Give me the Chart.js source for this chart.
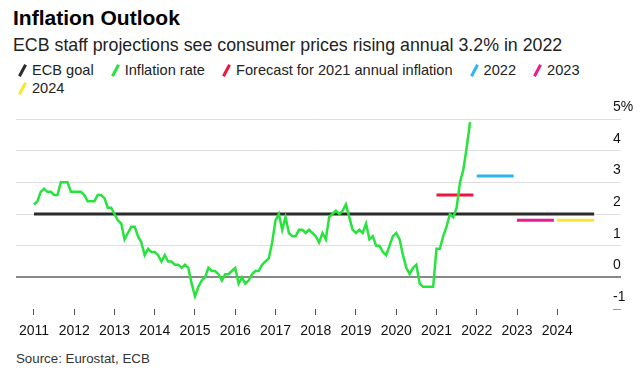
<!DOCTYPE html>
<html>
<head>
<meta charset="utf-8">
<script src="https://cdn.jsdelivr.net/npm/chart.js@4"></script>
<style>
  body { margin: 0; width: 644px; height: 370px; background: #fff; font-family: "Liberation Sans", Arial, sans-serif; color: #222; position: relative; overflow: hidden; }
  #title { position: absolute; left: 13px; top: 6px; font-size: 21px; font-weight: bold; line-height: 24px; color: #000; }
  #subtitle { position: absolute; left: 13px; top: 35px; font-size: 17.8px; line-height: 20px; }
  #legend { position: absolute; left: 15px; top: 61px; width: 610px; display: flex; flex-wrap: wrap; column-gap: 14px; font-size: 14.6px; line-height: 18px; }
  .item { display: flex; align-items: center; }
  .slash { display: inline-block; width: 3px; height: 13px; margin: 0 8px 0 6px; transform: rotate(28deg); }
  #source { position: absolute; left: 16px; top: 351px; font-size: 13.3px; line-height: 16px; color: #333; }
  #wrap { position: absolute; left: 0; top: 95px; width: 644px; height: 250px; }
</style>
</head>
<body>
<div id="title">Inflation Outlook</div>
<div id="subtitle">ECB staff projections see consumer prices rising annual 3.2% in 2022</div>
<div id="legend"></div>
<div id="wrap"><canvas id="chart"></canvas></div>
<div id="source">Source: Eurostat, ECB</div>
<script>
// euro area annual inflation, monthly from Jan 2011 to Nov 2021
const startYear = 2011;
const inflation = [
    2.3, 2.4, 2.7, 2.8, 2.7, 2.7, 2.6, 2.6, 3.0, 3.0, 3.0, 2.7,
    2.7, 2.7, 2.7, 2.6, 2.4, 2.4, 2.4, 2.6, 2.6, 2.5, 2.2, 2.2,
    2.0, 1.8, 1.7, 1.2, 1.4, 1.6, 1.6, 1.3, 1.1, 0.7, 0.9, 0.8,
    0.8, 0.7, 0.5, 0.7, 0.5, 0.5, 0.4, 0.4, 0.3, 0.4, 0.3, -0.2,
    -0.6, -0.3, -0.1, 0.0, 0.3, 0.2, 0.2, 0.1, -0.1, 0.1, 0.1, 0.2,
    0.3, -0.2, 0.0, -0.2, -0.1, 0.1, 0.2, 0.2, 0.4, 0.5, 0.6, 1.1,
    1.8, 2.0, 1.5, 1.9, 1.4, 1.3, 1.3, 1.5, 1.5, 1.4, 1.5, 1.4,
    1.3, 1.1, 1.4, 1.2, 1.9, 2.0, 2.1, 2.0, 2.1, 2.3, 1.9, 1.5,
    1.4, 1.5, 1.4, 1.7, 1.2, 1.3, 1.0, 1.0, 0.8, 0.7, 1.0, 1.3,
    1.4, 1.2, 0.7, 0.3, 0.1, 0.3, 0.4, -0.2, -0.3, -0.3, -0.3, -0.3,
    0.9, 0.9, 1.3, 1.6, 2.0, 1.9, 2.2, 3.0, 3.4, 4.1, 4.9
];

const ecbGoal = 2;
const goalYears = [2011, 2024];

const forecastLabels = ['Forecast for 2021 annual inflation', '2022', '2023', '2024'];
const forecastYears = [2021, 2022, 2023, 2024];
const forecastValues = [2.6, 3.2, 1.8, 1.8];
const forecastColors = ['#f0153d', '#2cb4ef', '#ee1a8f', '#f6e82b'];

const yearTicks = [2011, 2012, 2013, 2014, 2015, 2016, 2017, 2018, 2019, 2020, 2021, 2022, 2023, 2024];
const yTicks = [-1, 0, 1, 2, 3, 4, 5];

const green = '#27e43c';
const black = '#2b2b2b';

// legend (HTML so it can use the slanted markers)
const legendItems = [['ECB goal', black], ['Inflation rate', green]];
forecastLabels.forEach((l, i) => legendItems.push([l, forecastColors[i]]));
const legendEl = document.getElementById('legend');
legendItems.forEach(([label, color]) => {
    const d = document.createElement('div');
    d.className = 'item';
    d.innerHTML = '<span class="slash" style="background:' + color + '"></span><span>' + label + '</span>';
    legendEl.appendChild(d);
});

const inflationPoints = inflation.map((v, i) => ({ x: startYear + i / 12, y: v }));
const goalPoints = [{ x: goalYears[0], y: ecbGoal }, { x: goalYears[1] + 11 / 12, y: ecbGoal }];

const datasets = [{
    label: 'Inflation rate',
    data: inflationPoints,
    borderColor: green,
    borderWidth: 2.5,
    pointRadius: 0,
    tension: 0,
    order: 0
}, {
    label: 'ECB goal',
    data: goalPoints,
    borderColor: black,
    borderWidth: 3,
    pointRadius: 0,
    order: 1
}];
forecastYears.forEach((yr, i) => {
    datasets.push({
        label: forecastLabels[i],
        data: [{ x: yr, y: forecastValues[i] }, { x: yr + 11 / 12, y: forecastValues[i] }],
        borderColor: forecastColors[i],
        borderWidth: 3,
        pointRadius: 0,
        order: 2
    });
});

new Chart(document.getElementById('chart'), {
    type: 'line',
    data: { datasets: datasets },
    options: {
        responsive: true,
        maintainAspectRatio: false,
        animation: false,
        layout: { padding: { left: 16, right: 0, top: 24, bottom: 0 } },
        plugins: { legend: { display: false }, tooltip: { enabled: false } },
        scales: {
            x: {
                type: 'linear',
                min: 2010.553,
                max: 2025.385,
                afterFit: (scale) => { scale.height = 36; },
                afterBuildTicks: (scale) => { scale.ticks = yearTicks.map(v => ({ value: v })); },
                grid: { drawOnChartArea: false, drawTicks: true, tickLength: 6, tickColor: '#555', tickWidth: 1 },
                border: { display: false },
                ticks: {
                    padding: 8,
                    color: '#111',
                    font: { family: '"Liberation Sans", Arial, sans-serif', size: 14 },
                    maxRotation: 0,
                    autoSkip: false,
                    callback: (v) => String(v)
                }
            },
            y: {
                position: 'right',
                min: -1,
                max: 5,
                afterFit: (scale) => { scale.width = 31; },
                afterBuildTicks: (scale) => { scale.ticks = yTicks.map(v => ({ value: v })); },
                grid: {
                    color: (c) => c.tick.value === -1 ? 'rgba(0,0,0,0)' : (c.tick.value === 0 ? '#888' : '#dedede'),
                    tickColor: (c) => c.tick.value === 0 ? '#888' : (c.tick.value === -1 ? '#999' : '#dedede'),
                    lineWidth: (c) => c.tick.value === 0 ? 2 : 1,
                    tickLength: 8
                },
                border: { display: false },
                ticks: {
                    padding: -8,
                    labelOffset: -12,
                    crossAlign: 'near',
                    color: '#111',
                    font: { family: '"Liberation Sans", Arial, sans-serif', size: 14 },
                    callback: (v) => v === 5 ? '5%' : String(v)
                }
            }
        }
    }
});
</script>
</body>
</html>
